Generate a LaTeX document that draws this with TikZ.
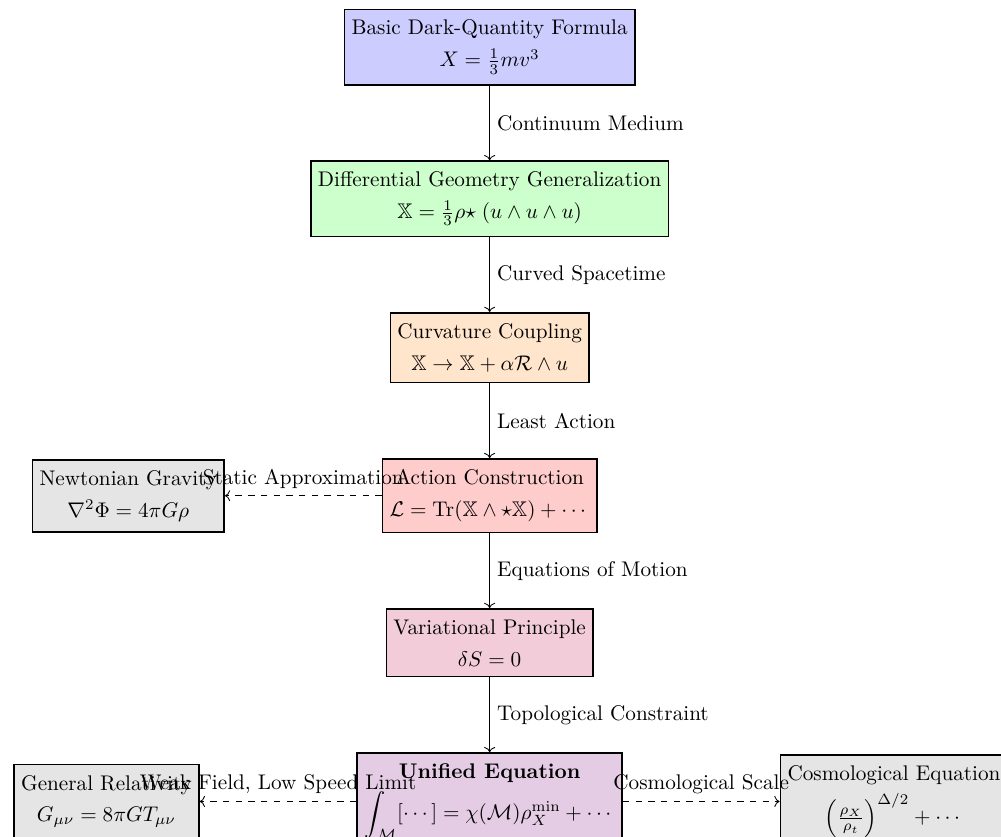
\documentclass[tikz,border=0pt]{standalone}
\usepackage{amsmath,amssymb}
\usepackage{xcolor}
\usepackage{tikz}
\usetikzlibrary{shapes,arrows,positioning,calc,arrows.meta}

\tikzset{
    block/.style={draw, thick, rectangle, align=center, inner ysep=5pt},
    flow/.style={->},
    branch/.style={->, dashed}
}

\begin{document}
\begin{tikzpicture}[node distance=1.24cm and 2.6cm]
    \useasboundingbox (-8.12,0.78) rectangle (8.48,-13.1);

    % Main chain
    \node [block, fill=blue!20] (basic) at (0,0) {Basic Dark-Quantity Formula\\[3pt] $X = \frac{1}{3}mv^3$};
    \node [block, fill=green!20, below=of basic] (diffgeo) {Differential Geometry Generalization\\[3pt] $\mathbb{X} = \frac{1}{3}\rho{\star}\;(u \wedge u \wedge u)$};
    \node [block, fill=orange!20, below=of diffgeo] (curv) {Curvature Coupling\\[3pt] $\mathbb{X} \to \mathbb{X} + \alpha\mathcal{R} \wedge u$};
    \node [block, fill=red!20, below=of curv] (action) {Action Construction\\[3pt] $\mathcal{L} = \mathrm{Tr}(\mathbb{X} \wedge \star\mathbb{X}) + \cdots$};
    \node [block, fill=purple!20, below=of action] (varprin) {Variational Principle\\[3pt] $\delta S = 0$};
    \node [block, fill=violet!20, below=of varprin] (unified) {\textbf{Unified Equation}\\[3pt] $\displaystyle\int_{\mathcal{M}} [\cdots] = \chi(\mathcal{M})\rho_X^{\min} + \cdots$};

    % Limits
    \node [block, fill=gray!20, left=of action] (newton) {Newtonian Gravity\\[3pt] $\nabla^2\Phi = 4\pi G\rho$};
    \node [block, fill=gray!20, left=of unified] (genrel) {General Relativity\\[3pt] $G_{\mu\nu} = 8\pi G T_{\mu\nu}$};
    \node [block, fill=gray!20, right=of unified] (cosmo) {Cosmological Equation\\[3pt] $\left(\frac{\rho_X}{\rho_t}\right)^{\Delta/2} + \cdots$};

    % Derivation steps
    \draw [flow] (basic) -- node[right] {Continuum Medium} (diffgeo);
    \draw [flow] (diffgeo) -- node[right] {Curved Spacetime} (curv);
    \draw [flow] (curv) -- node[right] {Least Action} (action);
    \draw [flow] (action) -- node[right] {Equations of Motion} (varprin);
    \draw [flow] (varprin) -- node[right] {Topological Constraint} (unified);

    % Reductions
    \draw [branch] (action) -- node[above] {Static Approximation} (newton);
    \draw [branch] (unified) -- node[above] {Weak Field, Low Speed Limit} (genrel);
    \draw [branch] (unified) -- node[above] {Cosmological Scale} (cosmo);
\end{tikzpicture}
\end{document}
